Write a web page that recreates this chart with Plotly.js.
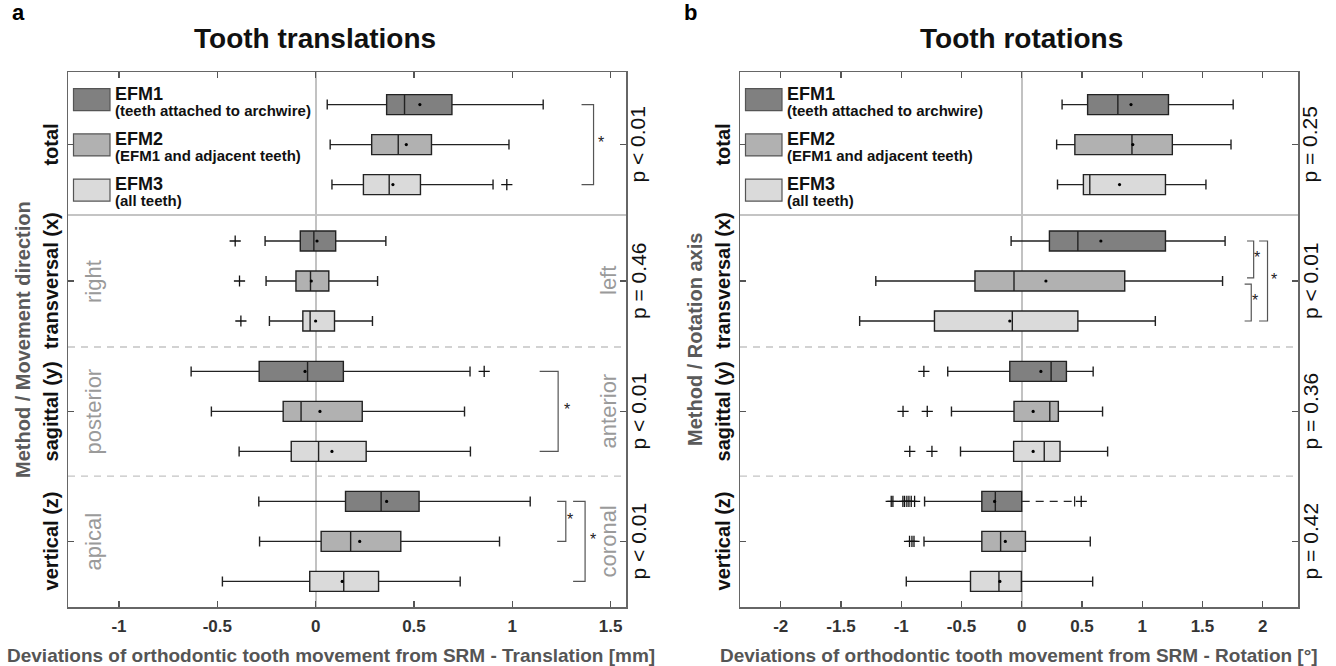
<!DOCTYPE html>
<html><head><meta charset="utf-8">
<script src="https://cdn.plot.ly/plotly-3.0.1.min.js"></script>
<style>html,body{margin:0;padding:0;background:#fff}#chart{width:1336px;height:666px}</style>
</head><body><div id="chart"></div>
<script>
// ================= DATA =================
const groups = ['total', 'transversal (x)', 'sagittal (y)', 'vertical (z)'];
const methods = ['EFM1', 'EFM2', 'EFM3'];
const methodNotes = ['(teeth attached to archwire)', '(EFM1 and adjacent teeth)', '(all teeth)'];
const xTicks = {a: [-1, -0.5, 0, 0.5, 1, 1.5], b: [-2, -1.5, -1, -0.5, 0, 0.5, 1, 1.5, 2]};
const pValuesTrans = ['p < 0.01', 'p = 0.46', 'p < 0.01', 'p < 0.01'];
const pValuesRot = ['p = 0.25', 'p < 0.01', 'p = 0.36', 'p = 0.42'];
const dirLeft = ['', 'right', 'posterior', 'apical'];
const dirRight = ['', 'left', 'anterior', 'coronal'];

// Translation [mm]; rows = EFM1..EFM3, columns = total, transversal, sagittal, vertical
const trLower  = [[0.059, -0.257, -0.633, -0.289], [0.074, -0.252, -0.530, -0.285], [0.083, -0.235, -0.389, -0.474]];
const trQ1     = [[0.361, -0.078, -0.287,  0.152], [0.285, -0.100, -0.165,  0.028], [0.243, -0.065, -0.124, -0.030]];
const trMedian = [[0.452, -0.009, -0.041,  0.333], [0.420, -0.026, -0.074,  0.178], [0.374, -0.028,  0.015,  0.143]];
const trQ3     = [[0.693,  0.102,  0.141,  0.526], [0.589,  0.067,  0.237,  0.433], [0.533,  0.096,  0.257,  0.320]];
const trUpper  = [[1.157,  0.357,  0.785,  1.091], [0.983,  0.315,  0.757,  0.935], [0.902,  0.289,  0.787,  0.735]];
const trMean   = [[0.530,  0.007, -0.054,  0.361], [0.461, -0.022,  0.022,  0.224], [0.393,  0.000,  0.083,  0.135]];
const trOutliers = [
  [[], [-0.409], [0.857], []],
  [[], [-0.387], [], []],
  [[0.972], [-0.380], [], []]
];

// Rotation [deg]
const roLower  = [[0.335, -0.088, -0.614, -0.806], [0.290, -1.211, -0.583, -0.811], [0.297, -1.345, -0.508, -0.958]];
const roQ1     = [[0.547,  0.230, -0.099, -0.331], [0.441, -0.388, -0.064, -0.331], [0.512, -0.724, -0.067, -0.425]];
const roMedian = [[0.798,  0.466,  0.244, -0.219], [0.915, -0.064,  0.233, -0.175], [0.565, -0.078,  0.187, -0.189]];
const roQ3     = [[1.218,  1.193,  0.371,  0.000], [1.250,  0.855,  0.304,  0.031], [1.193,  0.466,  0.318, -0.003]];
const roUpper  = [[1.755,  1.688,  0.593,  0.439], [1.737,  1.667,  0.671,  0.569], [1.529,  1.109,  0.713,  0.589]];
const roMean   = [[0.907,  0.657,  0.159, -0.225], [0.922,  0.201,  0.095, -0.136], [0.812, -0.099,  0.095, -0.181]];
const roOutliers = [
  [[], [], [-0.812], [-1.083, -1.069, -0.986, -0.972, -0.953, -0.936, -0.917, -0.889, 0.494]],
  [[], [], [-0.985, -0.784], [-0.931, -0.911, -0.894]],
  [[], [], [-0.929, -0.745], []]
];

// Significance brackets: [method from, method to] per group
const trSig = [{g: 0, from: 0, to: 2}, {g: 2, from: 0, to: 2}, {g: 3, from: 0, to: 1}, {g: 3, from: 0, to: 2}];
const roSig = [{g: 1, from: 0, to: 1}, {g: 1, from: 1, to: 2}, {g: 1, from: 0, to: 2}];

// ================= LAYOUT / STYLE =================
const W = 1336, H = 666;
const FONT = 'Liberation Sans, Arial, Helvetica, sans-serif';
const fills = ['#808080', '#b1b1b1', '#dadada'];
const groupCenters = [0, 3.41, 6.67, 9.92];
const separators = [1.76, 5.06, 8.29];
const yRange = [11.56, -1.815];
const PX = px => px / W, PY = py => 1 - py / H;
const yDomain = [PY(607), PY(72)];
const panels = {
  a: {xa: 'x', ya: 'y', dom: [68, 626], range: [-1.259, 1.578], lower: trLower, q1: trQ1, med: trMedian, q3: trQ3, upper: trUpper, mean: trMean, out: trOutliers,
      sig: trSig, p: pValuesTrans, title: 'Tooth translations', letter: 'a', titleX: 315, xtitleX: 331,
      xtitle: 'Deviations of orthodontic tooth movement from SRM - Translation [mm]', ytitle: 'Method / Movement direction',
      sigX: [{v: 1.413, arm: 1.352, star: 1.45}, {v: 1.233, arm: 1.139, star: 1.28}, {v: 1.272, arm: 1.228, star: 1.295}, {v: 1.370, arm: 1.309, star: 1.41}]},
  b: {xa: 'x2', ya: 'y2', dom: [740, 1298], range: [-2.338, 2.293], lower: roLower, q1: roQ1, med: roMedian, q3: roQ3, upper: roUpper, mean: roMean, out: roOutliers,
      sig: roSig, p: pValuesRot, title: 'Tooth rotations', letter: 'b', titleX: 1021, xtitleX: 1019,
      xtitle: 'Deviations of orthodontic tooth movement from SRM - Rotation [°]', ytitle: 'Method / Rotation axis',
      sigX: [{v: 1.925, arm: 1.87, star: 1.955}, {v: 1.905, arm: 1.85, star: 1.935}, {v: 2.04, arm: 1.97, star: 2.09}]}
};
// dashed whisker (rotation, vertical, EFM1, upper side)
const dashedUpper = {panel: 'b', m: 0, g: 3};

const traces = [], shapes = [], annotations = [];
const rowY = (g, m) => groupCenters[g] + (m - 1);
function note(x, y, text, font, extra) {
  return Object.assign({xref: 'paper', yref: 'paper', x: PX(x), y: PY(y), text: text, showarrow: false,
    xanchor: 'center', yanchor: 'middle', font: Object.assign({family: FONT}, font)}, extra || {});
}

for (const key of ['a', 'b']) {
  const P = panels[key];
  for (let m = 0; m < 3; m++) {
    const upper = P.upper[m].slice();
    if (dashedUpper.panel === key && dashedUpper.m === m) upper[dashedUpper.g] = P.q3[m][dashedUpper.g];
    traces.push({
      type: 'box', orientation: 'h', xaxis: P.xa, yaxis: P.ya,
      y: groups.map((_, g) => rowY(g, m)),
      q1: P.q1[m], median: P.med[m], q3: P.q3[m], lowerfence: P.lower[m], upperfence: upper,
      width: 0.5, whiskerwidth: 0.5, boxpoints: false,
      fillcolor: fills[m], line: {color: '#222', width: 1.4},
      hoverinfo: 'skip', showlegend: false
    });
    traces.push({type: 'scatter', mode: 'markers', xaxis: P.xa, yaxis: P.ya,
      x: P.mean[m], y: groups.map((_, g) => rowY(g, m)),
      marker: {size: 3.2, color: '#000'}, hoverinfo: 'skip', showlegend: false});
    const ox = [], oy = [];
    P.out[m].forEach((arr, g) => arr.forEach(v => { ox.push(v); oy.push(rowY(g, m)); }));
    traces.push({type: 'scatter', mode: 'markers', xaxis: P.xa, yaxis: P.ya, x: ox, y: oy,
      marker: {symbol: 'cross-thin-open', size: 8, color: '#111', line: {width: 1.3, color: '#111'}},
      hoverinfo: 'skip', showlegend: false});
    if (dashedUpper.panel === key && dashedUpper.m === m) {
      const g = dashedUpper.g, y0 = rowY(g, m), q3 = P.q3[m][g], up = P.upper[m][g];
      traces.push({type: 'scatter', mode: 'lines', xaxis: P.xa, yaxis: P.ya, x: [q3, up], y: [y0, y0],
        line: {color: '#262626', width: 1.2, dash: '8px,6px'}, hoverinfo: 'skip', showlegend: false});
      traces.push({type: 'scatter', mode: 'lines', xaxis: P.xa, yaxis: P.ya, x: [up, up], y: [y0 - 0.13, y0 + 0.13],
        line: {color: '#262626', width: 1.2}, hoverinfo: 'skip', showlegend: false});
    }
  }
  separators.forEach((s, i) => shapes.push({type: 'line', xref: P.xa + ' domain', yref: P.ya, x0: 0, x1: 1, y0: s, y1: s,
    line: {color: i === 0 ? '#b0b0b0' : '#c4c4c4', width: 1.3, dash: i === 0 ? 'solid' : '7px,6px'}, layer: 'below'}));
  P.sig.forEach((s, i) => {
    const X = P.sigX[i];
    let y1 = rowY(s.g, s.from), y2 = rowY(s.g, s.to);
    if (key === 'b' && i === 0) y2 -= 0.08;
    if (key === 'b' && i === 1) y1 += 0.08;
    shapes.push({type: 'path', xref: P.xa, yref: P.ya,
      path: `M ${X.arm},${y1} L ${X.v},${y1} L ${X.v},${y2} L ${X.arm},${y2}`,
      line: {color: '#555', width: 1.2}});
    annotations.push({xref: P.xa, yref: P.ya, x: X.star, y: (y1 + y2) / 2 - 0.05, text: '*', showarrow: false,
      xanchor: 'center', yanchor: 'middle', font: {family: FONT, size: 16, color: '#222'}});
  });
  const L = P.dom[0], R = P.dom[1];
  annotations.push(note(L - 50, 13, P.letter, {size: 22, color: '#000', weight: 'bold'}));
  annotations.push(note(P.titleX, 39, P.title, {size: 28, color: '#111', weight: 'bold'}));
  annotations.push(note(P.xtitleX, 655, P.xtitle, {size: 19, color: '#555', weight: 'bold'}));
  annotations.push(note(L - 45, 340, P.ytitle, {size: 20, color: '#5a5a5a', weight: 'bold'}, {textangle: -90}));
  groups.forEach((gname, g) => {
    const ypx = 72 + (groupCenters[g] - yRange[1]) * 40;
    annotations.push(note(L - 17, ypx, gname, {size: 20, color: '#111', weight: 'bold'}, {textangle: -90}));
    annotations.push(note(R + 12, ypx, P.p[g], {size: 21, color: '#111'}, {textangle: -90}));
    if (key === 'a' && dirLeft[g]) {
      annotations.push(note(L + 25, ypx, dirLeft[g], {size: 22, color: '#9a9a9a'}, {textangle: -90}));
      annotations.push(note(R - 18, ypx, dirRight[g], {size: 22, color: '#9a9a9a'}, {textangle: -90}));
    }
  });
  methods.forEach((mname, m) => {
    const cy = 99.7 + m * 45.2;
    shapes.push({type: 'rect', xref: 'paper', yref: 'paper', x0: PX(L + 5.5), x1: PX(L + 42), y0: PY(cy + 11), y1: PY(cy - 11),
      fillcolor: fills[m], line: {color: '#555', width: 1.2}});
    annotations.push(note(L + 45, cy - 6, mname, {size: 18, color: '#111', weight: 'bold'}, {xanchor: 'left'}));
    annotations.push(note(L + 45, cy + 10.5, methodNotes[m], {size: 15, color: '#111', weight: 'bold'}, {xanchor: 'left'}));
  });
}

function xAxis(P, ticks, anchor) {
  return {domain: [PX(P.dom[0]), PX(P.dom[1])], range: P.range, anchor: anchor, tickvals: ticks, ticktext: ticks.map(String),
    ticks: 'inside', ticklen: 6, tickwidth: 1.2, tickcolor: '#555', showline: true, linecolor: '#666', linewidth: 1.5, mirror: 'ticks',
    showgrid: false, zeroline: true, zerolinecolor: '#c2c2c2', zerolinewidth: 2, ticklabelstandoff: 3,
    tickfont: {family: FONT, size: 17, color: '#333', weight: 'bold'}, fixedrange: true};
}
function yAxis(anchor) {
  return {domain: yDomain, range: yRange, anchor: anchor, tickvals: groupCenters, showticklabels: false,
    ticks: 'inside', ticklen: 6, tickwidth: 1.2, tickcolor: '#555', showline: true, linecolor: '#666', linewidth: 1.5, mirror: 'ticks',
    showgrid: false, zeroline: false, fixedrange: true};
}

const layout = {
  width: W, height: H, margin: {l: 0, r: 0, t: 0, b: 0}, paper_bgcolor: '#fff', plot_bgcolor: '#fff',
  showlegend: false, boxmode: 'overlay',
  xaxis: xAxis(panels.a, xTicks.a, 'y'), yaxis: yAxis('x'),
  xaxis2: xAxis(panels.b, xTicks.b, 'y2'), yaxis2: yAxis('x2'),
  shapes: shapes, annotations: annotations
};

Plotly.newPlot('chart', traces, layout, {staticPlot: true, displayModeBar: false});
</script></body></html>
